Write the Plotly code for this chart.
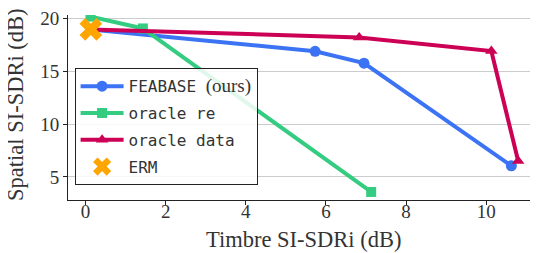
import plotly.graph_objects as go

# Data
feabase_x = [0.13, 5.73, 6.95, 10.63]
feabase_y = [18.94, 16.87, 15.75, 6.05]
re_x = [0.12, 1.43, 7.13]
re_y = [20.15, 19.03, 3.58]
data_x = [0.13, 6.83, 10.13, 10.8]
data_y = [18.94, 18.18, 16.9, 6.5]
erm_x = [0.13]
erm_y = [18.94]

xticks = [0, 2, 4, 6, 8, 10]
yticks = [5, 10, 15, 20]

BLUE = "#3b73f4"
GREEN = "#33cc80"
RED = "#cc0055"
ORANGE = "#ffa500"
TXT = "#333333"
SERIF = "Liberation Serif"
MONO = "DejaVu Sans Mono"

fig = go.Figure()
fig.add_trace(go.Scatter(
    x=feabase_x, y=feabase_y, mode="lines+markers",
    name=f"FEABASE <span style='font-family:{SERIF};font-size:19px'>(ours)</span>",
    line=dict(color=BLUE, width=4), marker=dict(symbol="circle", size=11, color=BLUE),
    legendgroup="a"))
fig.add_trace(go.Scatter(
    x=re_x, y=re_y, mode="lines+markers", name="oracle re",
    line=dict(color=GREEN, width=4), marker=dict(symbol="square", size=10, color=GREEN),
    legendgroup="b"))
fig.add_trace(go.Scatter(
    x=data_x, y=data_y, mode="lines+markers", name="oracle data",
    line=dict(color=RED, width=4), marker=dict(symbol="triangle-up", size=11, color=RED),
    legendgroup="c"))
fig.add_trace(go.Scatter(
    x=erm_x, y=erm_y, mode="markers", name="ERM",
    marker=dict(symbol="x", size=20, color=ORANGE, line=dict(width=0)),
    legendgroup="d"))

fig.update_layout(
    width=538, height=253,
    margin=dict(l=60.3, r=7.3, t=0, b=61.3),
    paper_bgcolor="white", plot_bgcolor="white",
    font=dict(family=SERIF, size=19, color=TXT),
    showlegend=True,
    legend=dict(
        x=0.014, y=0.712, xanchor="left", yanchor="top",
        bgcolor="rgba(255,255,255,0.85)", bordercolor="#222", borderwidth=1,
        font=dict(family=MONO, size=16, color=TXT),
        tracegroupgap=3, itemwidth=43,
    ),
    xaxis=dict(
        range=[-0.44, 11.32], tickvals=xticks, showgrid=False, zeroline=False,
        showline=True, linecolor="#222", linewidth=1, mirror=False,
        ticks="outside", ticklen=4, tickcolor="#222",
        tickfont=dict(family=SERIF, size=19), ticklabelstandoff=-10,
    ),
    yaxis=dict(
        range=[2.82, 20.3], tickvals=yticks, showgrid=True, gridcolor="#cccccc",
        gridwidth=1, zeroline=False,
        showline=True, linecolor="#222", linewidth=1, mirror=True,
        ticks="outside", ticklen=4, tickcolor="#222",
        tickfont=dict(family=SERIF, size=19), ticklabeloverflow="allow",
    ),
    annotations=[
        dict(text="Spatial SI-SDRi (dB)", xref="paper", yref="paper",
             x=-0.11, y=0.515, xanchor="center", yanchor="middle",
             textangle=-90, showarrow=False, font=dict(family=SERIF, size=22.5, color=TXT)),
        dict(text="Timbre SI-SDRi (dB)", xref="paper", yref="paper",
             x=0.5, y=-0.2155, xanchor="center", yanchor="middle",
             showarrow=False, font=dict(family=SERIF, size=22.5, color=TXT)),
    ],
)

fig.write_html("out.html")
